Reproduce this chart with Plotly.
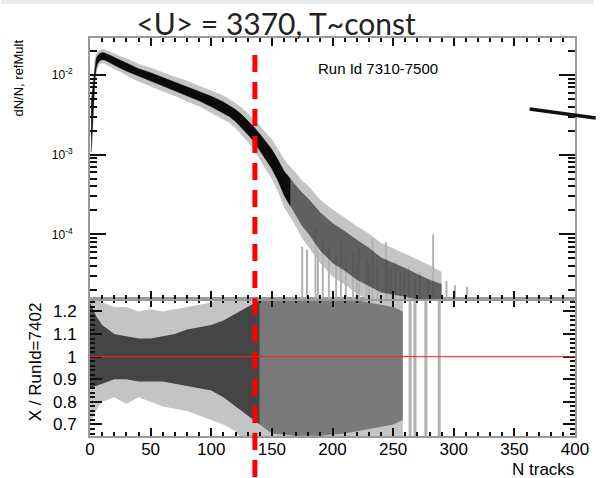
import numpy as np
import plotly.graph_objects as go

# ---------------- data ----------------
N_top = [1, 2, 3, 4, 5, 6, 8, 10, 12, 15, 20, 25, 30, 35, 40, 50, 60, 70, 80, 90,
         100, 110, 115, 120, 125, 130, 135, 140, 145, 150, 155, 160, 165, 170, 175,
         180, 190, 200, 210, 220, 230, 240, 250, 260, 270, 280, 290]
dNdN = [0.00216, 0.0036, 0.0061, 0.0109, 0.0137, 0.0154, 0.0168, 0.0173, 0.0171, 0.0163,
        0.0150, 0.0137, 0.0126, 0.0116, 0.0107, 0.0094, 0.0082, 0.0072, 0.0063, 0.00546,
        0.00466, 0.00391, 0.00354, 0.0031, 0.00265, 0.0022, 0.00182, 0.00145, 0.00111,
        0.00088, 0.00064, 0.00044, 0.00034, 0.00027, 0.000205, 0.00017, 0.000108, 7.8e-5,
        6.2e-5, 4.8e-5, 3.9e-5, 3.1e-5, 2.8e-5, 2.5e-5, 2.2e-5, 2.05e-5, 1.9e-5]
# spread of the overlaid runs (decades): dense black core and grey error bars
core_spread = [0.3, 0.22, 0.15, 0.1, 0.06, 0.05, 0.045, 0.045, 0.045, 0.045, 0.045, 0.05,
               0.05, 0.05, 0.05, 0.055, 0.055, 0.055, 0.06, 0.06, 0.065, 0.07, 0.07, 0.075,
               0.08, 0.085, 0.09, 0.1, 0.11, 0.12, 0.13, 0.15, 0.17, 0.19, 0.21, 0.22, 0.24,
               0.25, 0.25, 0.25, 0.24, 0.22, 0.2, 0.18, 0.16, 0.12, 0.1]
err_spread = [0.4, 0.32, 0.24, 0.17, 0.12, 0.11, 0.09, 0.09, 0.09, 0.09, 0.1, 0.1, 0.11,
              0.11, 0.11, 0.12, 0.12, 0.12, 0.13, 0.13, 0.14, 0.15, 0.15, 0.16, 0.17, 0.18,
              0.19, 0.21, 0.23, 0.25, 0.27, 0.3, 0.32, 0.34, 0.36, 0.38, 0.4, 0.42, 0.42,
              0.42, 0.42, 0.4, 0.38, 0.36, 0.34, 0.3, 0.25]
# tail bins whose error bars reach zero (N, top of the bar)
tail_N = [175, 179, 186, 188, 192, 197, 203, 207, 211, 217, 220, 222, 228, 230, 233, 237,
          244, 245, 248, 252, 256, 259, 263, 268, 272, 279, 283, 294, 301, 311]
tail_top = [7e-5, 6.4e-5, 1.2e-4, 6e-5, 9e-5, 7e-5, 5.5e-5, 8e-5, 5e-5, 6e-5, 4.5e-5, 7e-5,
            5e-5, 4.2e-5, 9e-5, 4e-5, 8e-5, 5e-5, 3.8e-5, 4.5e-5, 3.5e-5, 3.2e-5, 4e-5,
            3e-5, 3.4e-5, 2.8e-5, 1.0e-4, 2.6e-5, 2.3e-5, 2.2e-5]

# ratio panel X / RunId=7402
N_ratio = [0, 5, 10, 20, 30, 40, 50, 60, 70, 80, 90, 100, 110, 120, 130, 140, 150, 170,
           190, 210, 230, 250, 258]
ratio_err_lo = [0.70, 0.76, 0.80, 0.82, 0.79, 0.82, 0.80, 0.78, 0.77, 0.76, 0.74, 0.72,
                0.70, 0.67, 0.6, 0.6, 0.6, 0.6, 0.6, 0.6, 0.6, 0.6, 0.6]
ratio_err_hi = [1.26, 1.26, 1.24, 1.22, 1.22, 1.20, 1.21, 1.20, 1.21, 1.22, 1.23, 1.24,
                1.26, 1.26, 1.3, 1.3, 1.3, 1.3, 1.3, 1.3, 1.3, 1.3, 1.3]
ratio_core_lo = [0.86, 0.87, 0.88, 0.90, 0.90, 0.89, 0.89, 0.89, 0.88, 0.87, 0.86, 0.85,
                 0.82, 0.78, 0.74, 0.70, 0.66, 0.65, 0.65, 0.66, 0.68, 0.70, 0.72]
ratio_core_hi = [1.24, 1.18, 1.14, 1.10, 1.09, 1.08, 1.08, 1.09, 1.10, 1.12, 1.13, 1.14,
                 1.16, 1.19, 1.22, 1.25, 1.26, 1.26, 1.26, 1.26, 1.24, 1.22, 1.20]
ratio_tail_N = [264, 268, 277, 288]
ratio_tail_lo = [0.6, 0.6, 0.6, 0.6]
ratio_tail_hi = [1.3, 1.3, 1.3, 1.3]

RATIO_REF = 1.0
CUT_N = 136            # red dashed marker
x_ticks = [0, 50, 100, 150, 200, 250, 300, 350, 400]
top_ticks = [1e-4, 1e-3, 1e-2]
top_ticktext = ["10<sup>-4</sup>", "10<sup>-3</sup>", "10<sup>-2</sup>"]
top_minor = [k * 10.0 ** e for e in range(-5, -1) for k in range(2, 10)]
ratio_ticks = [0.7, 0.8, 0.9, 1.0, 1.1, 1.2]
ratio_ticktext = ["0.7", "0.8", "0.9", "1", "1.1", "1.2"]

# ---------------- geometry ----------------
W, H = 601, 478
ML, MR, MT, MB = 90, 19, 38, 42
PW, PH = W - ML - MR, H - MT - MB
def px(x): return (x - ML) / PW
def py(y): return (H - MB - y) / PH
split = py(299)
TOP_RANGE = [-4.811, -1.535]

FONT = "Liberation Sans, Arial, sans-serif"
GREY = "#c4c4c4"
TICK = "#111"
TW = 1.5

fig = go.Figure()

def band(xs, lo, hi):
    return list(xs) + list(xs[::-1]), list(hi) + list(lo[::-1])

# ---------- top panel ----------
n = np.array(N_top, float)
v = np.array(dNdN)
cs = np.array(core_spread)
es = np.array(err_spread)

bx, by = band(n, v / 10 ** es, v * 10 ** es)
fig.add_trace(go.Scatter(x=bx, y=by, fill="toself", fillcolor=GREY, mode="lines",
                         line=dict(width=0), xaxis="x2", yaxis="y2", hoverinfo="skip"))
tx, ty = [], []
for nn, tt in zip(tail_N, tail_top):
    tx += [nn, nn, None]
    ty += [tt, 1e-6, None]
fig.add_trace(go.Scatter(x=tx, y=ty, mode="lines", line=dict(color="#b2b2b2", width=2),
                         xaxis="x2", yaxis="y2", hoverinfo="skip"))
m1 = n <= 165
bx, by = band(n[m1], (v / 10 ** cs)[m1], (v * 10 ** cs)[m1])
fig.add_trace(go.Scatter(x=bx, y=by, fill="toself", fillcolor="#0a0a0a", mode="lines",
                         line=dict(width=0.5, color="#0a0a0a"), xaxis="x2", yaxis="y2",
                         hoverinfo="skip"))
m2 = n >= 160
bx, by = band(n[m2], (v / 10 ** cs)[m2], (v * 10 ** cs)[m2])
fig.add_trace(go.Scatter(x=bx, y=by, fill="toself", fillcolor="rgba(15,15,15,0.55)",
                         mode="lines", line=dict(width=0), xaxis="x2", yaxis="y2",
                         hoverinfo="skip"))

# ---------- ratio panel ----------
nr = np.array(N_ratio, float)
bx, by = band(nr, np.array(ratio_err_lo), np.array(ratio_err_hi))
fig.add_trace(go.Scatter(x=bx, y=by, fill="toself", fillcolor=GREY, mode="lines",
                         line=dict(width=0), xaxis="x", yaxis="y", hoverinfo="skip"))
rx, ry = [], []
for nn, lo, hi in zip(ratio_tail_N, ratio_tail_lo, ratio_tail_hi):
    rx += [nn, nn, None]
    ry += [lo, hi, None]
fig.add_trace(go.Scatter(x=rx, y=ry, mode="lines", line=dict(color="#b2b2b2", width=3),
                         xaxis="x", yaxis="y", hoverinfo="skip"))
mc = nr <= 140
bx, by = band(nr[mc], np.array(ratio_core_lo)[mc], np.array(ratio_core_hi)[mc])
fig.add_trace(go.Scatter(x=bx, y=by, fill="toself", fillcolor="rgba(20,20,20,0.72)",
                         mode="lines", line=dict(width=0), xaxis="x", yaxis="y",
                         hoverinfo="skip"))
mc = nr >= 140
bx, by = band(nr[mc], np.array(ratio_core_lo)[mc], np.array(ratio_core_hi)[mc])
fig.add_trace(go.Scatter(x=bx, y=by, fill="toself", fillcolor="rgba(20,20,20,0.42)",
                         mode="lines", line=dict(width=0), xaxis="x", yaxis="y",
                         hoverinfo="skip"))

# ---------- axes ----------
common_x = dict(range=[0, 400], tickvals=x_ticks, ticks="inside", ticklen=8, tickwidth=TW,
                tickcolor=TICK, showline=True, linecolor="#9a9a9a", linewidth=2,
                mirror="allticks", showgrid=False, zeroline=False,
                minor=dict(dtick=10, tick0=0, ticks="inside", ticklen=4, tickcolor=TICK,
                           tickwidth=TW, showgrid=False))
fig.update_layout(
    width=W, height=H, margin=dict(l=ML, r=MR, t=MT, b=MB),
    paper_bgcolor="white", plot_bgcolor="white", showlegend=False,
    xaxis=dict(**common_x, anchor="y", domain=[0, 1],
               tickfont=dict(family=FONT, size=17, color="black"), ticklabelstandoff=-3),
    xaxis2=dict(**common_x, anchor="y2", domain=[0, 1], matches="x", showticklabels=False),
    yaxis=dict(domain=[0, split], range=[0.649, 1.255], tickvals=ratio_ticks,
               ticktext=ratio_ticktext, ticks="inside", ticklen=12, tickwidth=TW,
               tickcolor=TICK, showline=True, linecolor="#9a9a9a", linewidth=2,
               mirror="allticks", showgrid=False, zeroline=False, anchor="x",
               tickfont=dict(family=FONT, size=17, color="black"), ticklabelstandoff=8,
               minor=dict(dtick=0.02, tick0=0.6, ticks="inside", ticklen=5,
                          tickwidth=TW, tickcolor=TICK, showgrid=False)),
    yaxis2=dict(domain=[split, 1], type="log", range=TOP_RANGE, tickvals=top_ticks,
                ticktext=top_ticktext, ticks="inside", ticklen=16, tickwidth=TW,
                tickcolor=TICK, showline=True, linecolor="#9a9a9a", linewidth=2,
                mirror="allticks", showgrid=False, zeroline=False, anchor="x2",
                tickfont=dict(family=FONT, size=12, color="black"), ticklabelstandoff=13,
                minor=dict(tickmode="array", tickvals=top_minor, ticks="inside", ticklen=7,
                           tickwidth=TW, tickcolor=TICK, showgrid=False)),
    title=dict(text="&lt;U&gt; = 3370, T~const", x=276 / W, xanchor="center",
               y=1 - 24 / H, yanchor="middle", yref="container",
               font=dict(family="Lato", size=30, color="#222")),
)

# ---------- texts ----------
fig.add_annotation(text="dN/N, refMult", textangle=-90, xref="paper", yref="paper",
                   x=px(17), y=py(38), xanchor="center", yanchor="top", showarrow=False,
                   font=dict(family=FONT, size=13, color="black"))
fig.add_annotation(text="X / RunId=7402", textangle=-90, xref="paper", yref="paper",
                   x=px(35), y=py(300), xanchor="center", yanchor="top", showarrow=False,
                   font=dict(family=FONT, size=17, color="black"))
fig.add_annotation(text="N tracks", xref="paper", yref="paper", x=px(583), y=py(469),
                   xanchor="right", yanchor="middle", showarrow=False,
                   font=dict(family=FONT, size=17, color="black"))
fig.add_annotation(text="Run Id 7310-7500", xref="paper", yref="paper", x=px(382),
                   y=py(68), xanchor="center", yanchor="middle", showarrow=False,
                   font=dict(family=FONT, size=15, color="black"))

# ---------- shapes ----------
fig.add_shape(type="rect", xref="paper", yref="paper", x0=px(0), x1=px(W), y0=py(4),
              y1=py(0), fillcolor="#e9ecef", line=dict(width=0), layer="above")
fig.add_shape(type="line", xref="paper", yref="y", x0=0, x1=1, y0=RATIO_REF, y1=RATIO_REF,
              line=dict(color="#ff2020", width=1), layer="above")
fig.add_shape(type="line", xref="paper", yref="paper", x0=CUT_N / 400, x1=CUT_N / 400,
              y0=py(55), y1=py(H), line=dict(color="#ff0000", width=5, dash="17px,10px"),
              layer="above")
fig.add_shape(type="line", xref="paper", yref="paper", x0=px(536), y0=py(109),
              x1=px(W + 2), y1=py(118), line=dict(color="#111", width=3.5), layer="above")

fig.write_html("out.html")
